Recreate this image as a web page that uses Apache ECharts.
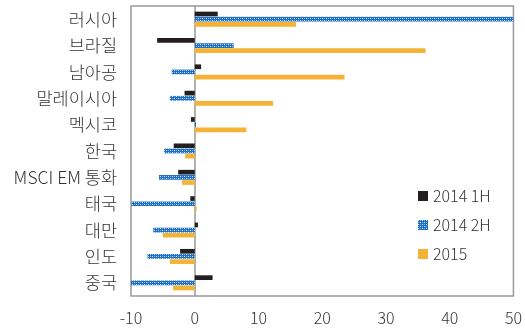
<!DOCTYPE html>
<html>
<head>
<meta charset="utf-8">
<script src="https://cdn.jsdelivr.net/npm/echarts@6/dist/echarts.min.js"></script>
<style>
  html, body { margin: 0; padding: 0; background: #fff; }
  #chart { width: 525px; height: 328px; }
</style>
</head>
<body>
<div id="chart"></div>
<script>
// 국가별 통화 변동 (%)
const categories = ['러시아', '브라질', '남아공', '말레이시아', '멕시코', '한국', 'MSCI EM 통화', '태국', '대만', '인도', '중국']
const h1_2014 = [3.6, -5.9, 1.0, -1.6, -0.6, -3.3, -2.6, -0.7, 0.5, -2.3, 2.8]
const h2_2014 = [52, 6.1, -3.6, -3.9, 0.2, -4.8, -5.6, -9.9, -6.5, -7.4, -10]
const y2015 = [15.9, 36.2, 23.5, 12.3, 8.1, -1.5, -2.0, 0.3, -5.0, -3.9, -3.4]
const xTicks = [-10, 0, 10, 20, 30, 40, 50]

// 2014 2H 체크무늬 패턴
function makePattern() {
    const c = document.createElement('canvas')
    c.width = 4
    c.height = 4
    const ctx = c.getContext('2d')
    ctx.fillStyle = '#1f6fc2'
    ctx.fillRect(0, 0, 4, 4)
    ctx.fillStyle = '#cfe3f6'
    ctx.fillRect(0, 0, 1, 1)
    ctx.fillRect(2, 2, 1, 1)
    ctx.fillStyle = '#7fb2e3'
    ctx.fillRect(2, 0, 1, 1)
    ctx.fillRect(0, 2, 1, 1)
    return { image: c, repeat: 'repeat' }
}

const myChart = echarts.init(document.getElementById('chart'))
const fontColor = '#333'
const fontFamily = '"Noto Sans CJK KR", "Noto Sans", sans-serif'

const option = {
    backgroundColor: '#fff',
    animation: false,
    textStyle: { fontFamily: fontFamily },
    grid: {
        left: 131,
        right: 9,
        top: 6,
        bottom: 32,
        show: true,
        borderColor: '#999',
        borderWidth: 1.5,
        containLabel: false
    },
    legend: {
        orient: 'vertical',
        left: 413,
        top: 183,
        icon: 'rect',
        itemWidth: 10,
        itemHeight: 10,
        itemGap: 13,
        textStyle: { color: fontColor, fontSize: 16, fontFamily: fontFamily, fontWeight: 300 },
        data: ['2014 1H', '2014 2H', '2015']
    },
    xAxis: {
        type: 'value',
        min: -10,
        max: 50,
        interval: 10,
        axisLine: { show: false },
        axisTick: { show: false },
        splitLine: { show: false },
        axisLabel: {
            color: fontColor,
            fontSize: 16,
            margin: 14,
            fontFamily: fontFamily,
            fontWeight: 300,
            formatter: v => (xTicks.indexOf(v) >= 0 ? String(v) : '')
        }
    },
    yAxis: {
        type: 'category',
        inverse: true,
        data: categories,
        axisLine: { show: true, onZero: true, lineStyle: { color: '#999', width: 1.5 } },
        axisTick: { show: false },
        axisLabel: {
            color: fontColor,
            fontSize: 17.5,
            margin: 14,
            fontFamily: fontFamily,
            fontWeight: 300
        }
    },
    series: [
        {
            name: '2014 1H',
            type: 'bar',
            barWidth: 4.7,
            barGap: '10%',
            itemStyle: { color: '#231f20' },
            data: h1_2014
        },
        {
            name: '2014 2H',
            type: 'bar',
            barWidth: 4.7,
            barGap: '10%',
            itemStyle: { color: makePattern() },
            data: h2_2014
        },
        {
            name: '2015',
            type: 'bar',
            barWidth: 4.7,
            barGap: '10%',
            itemStyle: { color: '#f5b335' },
            data: y2015
        }
    ]
}
myChart.setOption(option)
</script>
</body>
</html>
